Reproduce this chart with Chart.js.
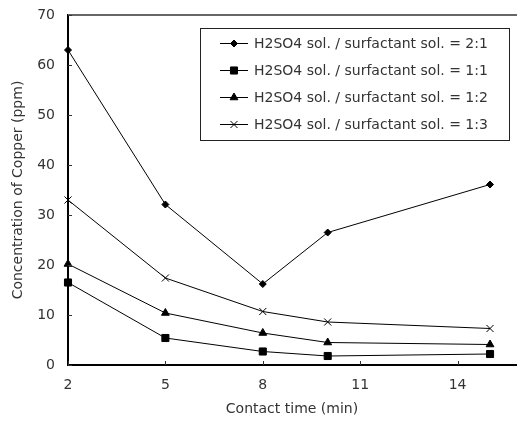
<!DOCTYPE html>
<html>
<head>
<meta charset="utf-8">
<script src="https://cdn.jsdelivr.net/npm/chart.js@4.4.1/dist/chart.umd.min.js"></script>
<style>
  html, body { margin: 0; padding: 0; background: #fff; }
</style>
</head>
<body>
<canvas id="chart" width="517" height="421"></canvas>
<script>
const contactTime = [2, 5, 8, 10, 15];
const xTicks = [2, 5, 8, 11, 14];
const ratio21 = [63, 32.1, 16.2, 26.5, 36.1];
const ratio11 = [16.5, 5.4, 2.7, 1.8, 2.2];
const ratio12 = [20.2, 10.4, 6.4, 4.5, 4.1];
const ratio13 = [33, 17.4, 10.7, 8.6, 7.3];
const seriesLabels = [
    'H2SO4 sol. / surfactant sol. = 2:1',
    'H2SO4 sol. / surfactant sol. = 1:1',
    'H2SO4 sol. / surfactant sol. = 1:2',
    'H2SO4 sol. / surfactant sol. = 1:3'
];

const FONT = "'DejaVu Sans', sans-serif";
const TEXT = '#333';

function toPoints(values) {
    return values.map((v, i) => ({ x: contactTime[i], y: v }));
}

function series(label, values, style, radius) {
    return {
        label,
        data: toPoints(values),
        borderColor: '#000',
        borderWidth: 1,
        backgroundColor: '#000',
        pointStyle: style,
        pointRadius: radius,
        pointBorderWidth: 1,
        pointBorderColor: '#000',
        pointBackgroundColor: '#000',
        tension: 0,
        clip: false
    };
}

// no extra room for edge labels, the layout padding decides
function noEdgePadding(scale) {
    scale.paddingTop = 0;
    scale.paddingBottom = 0;
    scale.paddingLeft = 0;
    scale.paddingRight = 0;
}

// frame line on top, inward tick marks, boxed legend
const decorations = {
    id: 'decorations',
    afterDatasetsDraw(chart) {
        const { ctx, chartArea, scales } = chart;
        ctx.save();

        ctx.strokeStyle = '#666';
        ctx.lineWidth = 2;
        ctx.beginPath();
        ctx.moveTo(chartArea.left, chartArea.top);
        ctx.lineTo(chart.width, chartArea.top);
        ctx.stroke();

        ctx.strokeStyle = '#333';
        ctx.lineWidth = 1;
        ctx.beginPath();
        xTicks.forEach((v) => {
            const x = Math.round(scales.x.getPixelForValue(v)) + 0.5;
            ctx.moveTo(x, chartArea.bottom);
            ctx.lineTo(x, chartArea.bottom - 4);
        });
        for (let v = 0; v <= 70; v += 10) {
            const y = Math.round(scales.y.getPixelForValue(v)) + 0.5;
            ctx.moveTo(chartArea.left, y);
            ctx.lineTo(chartArea.left + 4, y);
        }
        ctx.stroke();

        // legend
        const box = { x: 200.5, y: 28.5, w: 309, h: 112 };
        ctx.fillStyle = '#fff';
        ctx.fillRect(box.x, box.y, box.w, box.h);
        ctx.strokeStyle = '#222';
        ctx.lineWidth = 1;
        ctx.strokeRect(box.x, box.y, box.w, box.h);

        ctx.font = '14px ' + FONT;
        ctx.textBaseline = 'middle';
        ctx.textAlign = 'left';
        chart.data.datasets.forEach((ds, i) => {
            const y = 43 + i * 27;
            ctx.strokeStyle = '#000';
            ctx.lineWidth = 1;
            ctx.beginPath();
            ctx.moveTo(220, y + 0.5);
            ctx.lineTo(248, y + 0.5);
            ctx.stroke();
            ctx.fillStyle = '#000';
            Chart.helpers.drawPoint(ctx, {
                pointStyle: ds.pointStyle,
                radius: ds.pointRadius,
                rotation: 0,
                borderWidth: 1
            }, 234, y + 0.5);
            ctx.fillStyle = TEXT;
            ctx.fillText(ds.label, 254, y + 1);
        });

        ctx.restore();
    }
};

new Chart(document.getElementById('chart'), {
    type: 'line',
    data: {
        datasets: [
            series(seriesLabels[0], ratio21, 'rectRot', 3.5),
            series(seriesLabels[1], ratio11, 'rect', 5),
            series(seriesLabels[2], ratio12, 'triangle', 4.5),
            series(seriesLabels[3], ratio13, 'crossRot', 5)
        ]
    },
    options: {
        responsive: false,
        animation: false,
        devicePixelRatio: 1,
        layout: { autoPadding: false, padding: { top: 15, right: 1, left: 0, bottom: 0 } },
        plugins: {
            legend: { display: false },
            tooltip: { enabled: false }
        },
        scales: {
            x: {
                type: 'linear',
                min: 2,
                max: 15.8,
                afterBuildTicks: (scale) => {
                    scale.ticks = xTicks.map((v) => ({ value: v }));
                },
                afterFit: (scale) => { scale.height = 56; noEdgePadding(scale); },
                grid: { display: false, drawTicks: false },
                border: { display: true, color: '#000', width: 2 },
                ticks: { color: TEXT, font: { family: FONT, size: 14 }, padding: 12, autoSkip: false, maxRotation: 0 },
                title: {
                    display: true,
                    text: 'Contact time (min)',
                    color: TEXT,
                    font: { family: FONT, size: 14 },
                    padding: { top: 0, bottom: 3 }
                }
            },
            y: {
                min: 0,
                max: 70,
                afterFit: (scale) => { scale.width = 68; noEdgePadding(scale); },
                grid: { display: false, drawTicks: false },
                border: { display: true, color: '#000', width: 2 },
                ticks: { stepSize: 10, color: TEXT, font: { family: FONT, size: 14 }, padding: 13 },
                title: {
                    display: true,
                    text: 'Concentration of Copper (ppm)',
                    color: TEXT,
                    font: { family: FONT, size: 14 },
                    padding: { top: 10, bottom: 0 }
                }
            }
        }
    },
    plugins: [decorations]
});
</script>
</body>
</html>
